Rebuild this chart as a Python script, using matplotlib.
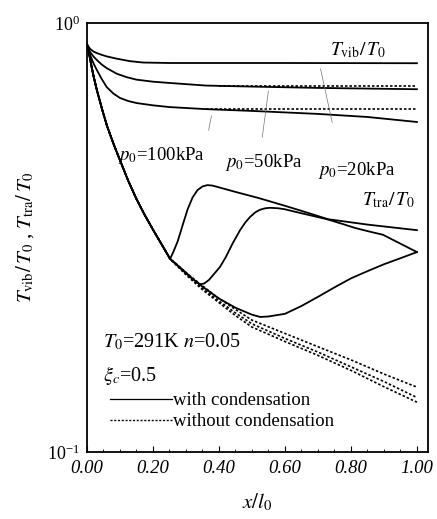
import numpy as np
import matplotlib.pyplot as plt
from matplotlib.lines import Line2D
from matplotlib.ticker import MultipleLocator, NullLocator

plt.rcParams['font.family'] = ['Liberation Serif', 'DejaVu Serif']
plt.rcParams['mathtext.fontset'] = 'stix'

# common start of the translational temperature (before condensation)
base_x = [0, 0.005, 0.01, 0.02, 0.03, 0.045, 0.06, 0.08, 0.1, 0.125, 0.15, 0.175, 0.2, 0.225, 0.252]
base_v = [0.893, 0.86, 0.82, 0.752, 0.698, 0.633, 0.578, 0.524, 0.479, 0.429, 0.389, 0.357,
          0.330, 0.306, 0.282]

# vibrational temperature T_vib/T0, with condensation
tvib20_x = [0, 0.005, 0.01, 0.02, 0.03, 0.045, 0.06, 0.09, 0.13, 0.17, 0.25, 0.4, 0.6, 1.0]
tvib20 = [0.893, 0.88, 0.87, 0.858, 0.851, 0.843, 0.836, 0.826, 0.815, 0.809, 0.807, 0.807,
          0.807, 0.806]
tvib50_x = [0, 0.005, 0.01, 0.02, 0.03, 0.045, 0.06, 0.09, 0.12, 0.15, 0.2, 0.25, 0.36, 0.5,
            0.7, 1.0]
tvib50 = [0.893, 0.872, 0.855, 0.835, 0.82, 0.80, 0.785, 0.762, 0.748, 0.738, 0.73, 0.725,
          0.715, 0.711, 0.706, 0.701]
tvib100_x = [0, 0.005, 0.01, 0.02, 0.03, 0.045, 0.06, 0.08, 0.1, 0.125, 0.15, 0.2, 0.25, 0.36,
             0.5, 0.7, 0.85, 1.0]
tvib100 = [0.893, 0.865, 0.84, 0.805, 0.777, 0.74, 0.709, 0.685, 0.669, 0.658, 0.651, 0.643,
           0.637, 0.630, 0.624, 0.614, 0.604, 0.588]

# vibrational temperature, without condensation (only where it departs)
tvib50_dry_x = [0.4, 0.5, 0.7, 1.0]
tvib50_dry = [0.714, 0.714, 0.714, 0.714]
tvib100_dry_x = [0.36, 0.5, 0.7, 1.0]
tvib100_dry = [0.632, 0.632, 0.632, 0.632]

# translational temperature T_tra/T0, with condensation (after the common start)
ttra100_x = [0.262, 0.275, 0.29, 0.305, 0.32, 0.335, 0.35, 0.365, 0.38, 0.40, 0.45, 0.52, 0.6,
             0.65, 0.73, 0.85, 1.0]
ttra100 = [0.293, 0.31, 0.338, 0.368, 0.392, 0.408, 0.416, 0.419, 0.418, 0.414, 0.404, 0.391,
           0.375, 0.365, 0.349, 0.339, 0.329]
ttra50_x = [0.3, 0.32, 0.342, 0.355, 0.37, 0.385, 0.403, 0.42, 0.442, 0.464, 0.48, 0.494, 0.51,
            0.524, 0.54, 0.555, 0.58, 0.6, 0.645, 0.727, 0.77, 0.812, 0.86, 0.897, 0.95, 1.0]
ttra50 = [0.262, 0.253, 0.246, 0.247, 0.252, 0.26, 0.270, 0.284, 0.307, 0.329, 0.343, 0.353,
          0.362, 0.367, 0.370, 0.371, 0.370, 0.368, 0.361, 0.349, 0.341, 0.333, 0.326, 0.321,
          0.306, 0.2925]
ttra20_x = [0.3, 0.35, 0.4, 0.45, 0.5, 0.525, 0.55, 0.6, 0.65, 0.7, 0.75, 0.8, 0.85, 0.9, 0.95,
            1.0]
ttra20 = [0.261, 0.243, 0.228, 0.217, 0.209, 0.2065, 0.207, 0.210, 0.219, 0.23, 0.242, 0.254,
          0.264, 0.274, 0.283, 0.2925]

# translational temperature, without condensation
dry_x = [0.27, 0.3, 0.35, 0.4, 0.45, 0.5, 0.6, 0.7, 0.8, 0.9, 1.0]
ttra100_dry = [0.275, 0.262, 0.244, 0.228, 0.215, 0.203, 0.189, 0.176, 0.164, 0.152, 0.1417]
ttra50_dry = [0.274, 0.26, 0.241, 0.225, 0.211, 0.199, 0.184, 0.171, 0.158, 0.146, 0.134]
ttra20_dry = [0.273, 0.259, 0.239, 0.223, 0.208, 0.1956, 0.181, 0.168, 0.155, 0.142, 0.1307]

fig = plt.figure(figsize=(4.37, 5.19), dpi=100)
ax = fig.add_axes([0.199, 0.129, 0.780, 0.8266])

solid = dict(color='black', lw=1.3)
dotted = dict(color='black', lw=1.2, ls=(0, (1.5, 1.2)))

ax.plot(tvib20_x, tvib20, **solid)
ax.plot(tvib50_x, tvib50, **solid)
ax.plot(tvib100_x, tvib100, **solid)
ax.plot(tvib50_dry_x, tvib50_dry, **dotted)
ax.plot(tvib100_dry_x, tvib100_dry, **dotted)

for xs, vs in [(ttra100_x, ttra100), (ttra50_x, ttra50), (ttra20_x, ttra20)]:
    ax.plot(base_x + xs, base_v + vs, **solid)
for vs in [ttra100_dry, ttra50_dry, ttra20_dry]:
    ax.plot(base_x + dry_x, base_v + vs, **dotted)

ax.set_yscale('log')
ax.set_ylim(0.1, 1.0)
ax.set_xlim(0, 1.033)
ax.xaxis.set_minor_locator(MultipleLocator(0.05))
ax.yaxis.set_minor_locator(NullLocator())
ax.set_xticks([0, 0.2, 0.4, 0.6, 0.8, 1.0])
ax.set_xticklabels(['0.00', '0.20', '0.40', '0.60', '0.80', '1.00'], fontstyle='italic')
ax.tick_params(axis='x', which='major', direction='in', length=4, width=0.8, labelsize=13.5, pad=6)
ax.tick_params(axis='x', which='minor', direction='in', length=2.5, width=0.6)
ax.tick_params(axis='y', which='major', direction='in', length=0, labelsize=13, pad=5)
for s in ax.spines.values():
    s.set_linewidth(1.3)

ax.set_xlabel('$x/l_0$', fontsize=15, labelpad=10)
ax.set_ylabel('$T_{\\mathrm{vib}}/\\,T_0$ , $T_{\\mathrm{tra}}/\\,T_0$', fontsize=15, labelpad=8)

ax.text(0.736, 0.865, '$T_{\\mathrm{vib}}/\\,T_0$', fontsize=14, va='center')
ax.text(0.833, 0.387, '$T_{\\mathrm{tra}}/\\,T_0$', fontsize=14, va='center')
ax.text(0.095, 0.492, '$p_0$=100kPa', fontsize=13.5, va='center')
ax.text(0.418, 0.474, '$p_0$=50kPa', fontsize=13.5, va='center')
ax.text(0.70, 0.454, '$p_0$=20kPa', fontsize=13.5, va='center')

lead = dict(arrowstyle='-', color='0.45', lw=0.5)
ax.annotate('', xy=(0.706, 0.794), xytext=(0.745, 0.578), arrowprops=lead)
ax.annotate('', xy=(0.551, 0.705), xytext=(0.53, 0.533), arrowprops=lead)
ax.annotate('', xy=(0.379, 0.617), xytext=(0.367, 0.554), arrowprops=lead)

ax.text(0.047, 0.256, '$T_0$=291K $n$=0.05', transform=ax.transAxes, fontsize=14.5, va='center')
ax.text(0.047, 0.179, '$\\xi_c$=0.5', transform=ax.transAxes, fontsize=14.5, va='center')

handles = [Line2D([], [], color='black', lw=0.9),
           Line2D([], [], color='black', lw=1.0, ls=(0, (1.5, 1.2)))]
ax.legend(handles, ['with condensation', 'without condensation'], loc='lower left',
          bbox_to_anchor=(0.028, 0.02), frameon=False, fontsize=13.5, handlelength=3.3,
          handletextpad=0.1, labelspacing=0.2, borderpad=0.2)

fig.savefig('out.png', dpi=100)
